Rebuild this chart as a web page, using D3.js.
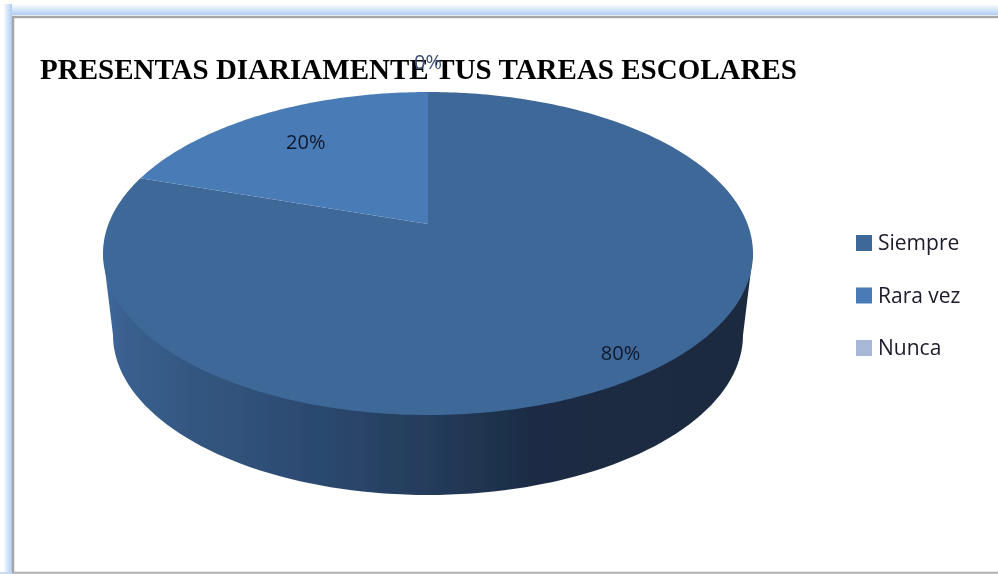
<!DOCTYPE html>
<html>
<head>
<meta charset="utf-8">
<script src="https://cdn.jsdelivr.net/npm/d3@7"></script>
<style>
  html, body { margin: 0; padding: 0; background: #fff; overflow: hidden; }
  svg { display: block; }
</style>
</head>
<body>
<svg width="998" height="574"></svg>
<script>
var categories = ["Siempre", "Rara vez", "Nunca"];
var values = [80, 20, 0];
var labels = ["80%", "20%", "0%"];
var colors = ["#3e6898", "#4a7cb6", "#a8b8d8"];
var labelRadius = [0.89, 0.72, 1.28];
var titleText = "PRESENTAS DIARIAMENTE TUS TAREAS ESCOLARES";

var svg = d3.select("svg"),
    width = +svg.attr("width"),
    height = +svg.attr("height");

var defs = svg.append("defs");

// soft edge, the source is a slightly blurry screenshot
defs.append("filter").attr("id", "soft")
    .append("feGaussianBlur").attr("stdDeviation", 0.45);

function fade(id, x1, y1, x2, y2) {
  var g = defs.append("linearGradient").attr("id", id)
      .attr("x1", x1).attr("y1", y1).attr("x2", x2).attr("y2", y2);
  g.append("stop").attr("offset", "0").attr("stop-color", "#fff");
  g.append("stop").attr("offset", "1").attr("stop-color", "#aecdf5");
}
fade("glowTop", 0, 0, 0, 1);
fade("glowLeft", 0, 0, 1, 0);

// window frame
svg.append("rect").attr("x", 3).attr("y", 4).attr("width", width).attr("height", 11).attr("fill", "url(#glowTop)");
svg.append("rect").attr("x", 3).attr("y", 4).attr("width", 9).attr("height", height).attr("fill", "url(#glowLeft)");
svg.append("rect").attr("x", 13).attr("y", 17).attr("width", width).attr("height", height - 18)
    .attr("fill", "#fff").attr("stroke", "#a6a6a6").attr("stroke-width", 2.5);
svg.append("rect").attr("x", 0).attr("y", 572.5).attr("width", width).attr("height", 2).attr("fill", "#c0c0c0");
svg.append("rect").attr("x", 0).attr("y", 572.5).attr("width", 12).attr("height", 2).attr("fill", "#c5dcf8");

var chart = svg.append("g").attr("filter", "url(#soft)");

// top face is a circle seen in perspective, the apex sits above the ellipse centre
var cx = 428, apexY = 224,
    topY = 92, botY = 415,
    topRx = 325;
var up = apexY - topY, down = botY - apexY;
var c = (up - down) / (up + down);
var a = up * (1 - c);
var d = topRx * Math.sqrt(1 - c * c);

function project(angle, r) {
  var u = Math.sin(angle) * r, v = -Math.cos(angle) * r;
  var w = 1 + c * v;
  return [cx + d * u / w, apexY + a * v / w];
}

var pie = d3.pie().sort(null).value(function(v) { return v; });
var slices = pie(values);
var line = d3.line();

function slicePath(s) {
  var pts = [[cx, apexY]];
  var n = Math.max(2, Math.ceil((s.endAngle - s.startAngle) * 60));
  d3.range(n + 1).forEach(function(i) {
    pts.push(project(s.startAngle + (s.endAngle - s.startAngle) * i / n, 1));
  });
  return line(pts) + "Z";
}

// side wall, bottom rim is a smaller ellipse
var wallRx = 315, wallRy = 160, wallCy = 335, topCy = (topY + botY) / 2;
var wallPts = [[cx + topRx, topCy]].concat(d3.range(0, 181, 2).map(function(t) {
  var r = t * Math.PI / 180;
  return [cx + wallRx * Math.cos(r), wallCy + wallRy * Math.sin(r)];
})).concat([[cx - topRx, topCy]]);

var wallStops = [[0, "#3f6aa0"], [0.03, "#3a6090"], [0.15, "#32567f"], [0.3, "#2d4b72"], [0.5, "#253c5c"], [0.66, "#1b2c44"], [1, "#1a2a40"]];
var wallGrad = defs.append("linearGradient").attr("id", "wall")
    .attr("gradientUnits", "userSpaceOnUse")
    .attr("x1", cx - topRx).attr("y1", 0).attr("x2", cx + topRx).attr("y2", 0);
wallStops.forEach(function(s) {
  wallGrad.append("stop").attr("offset", s[0]).attr("stop-color", s[1]);
});

chart.append("path").attr("d", line(wallPts) + "Z").attr("fill", "url(#wall)");

chart.selectAll("path.slice")
    .data(slices)
    .enter().append("path")
    .attr("class", "slice")
    .attr("d", slicePath)
    .attr("fill", function(s, i) { return colors[i]; });

// title is under the 0% label
chart.append("text")
    .attr("x", 40).attr("y", 79)
    .attr("font-family", "Liberation Serif")
    .attr("font-weight", "bold")
    .attr("font-size", 29)
    .attr("fill", "#000")
    .text(titleText);

chart.selectAll("text.pct")
    .data(slices)
    .enter().append("text")
    .attr("class", "pct")
    .attr("x", function(s, i) { return project((s.startAngle + s.endAngle) / 2, labelRadius[i])[0]; })
    .attr("y", function(s, i) { return project((s.startAngle + s.endAngle) / 2, labelRadius[i])[1]; })
    .attr("dy", "0.35em")
    .attr("text-anchor", "middle")
    .attr("font-family", "Open Sans")
    .attr("font-size", 20)
    .attr("fill", function(s, i) { return i == 2 ? "#3a4f78" : "#10182a"; })
    .text(function(s, i) { return labels[i]; });

// legend
var legendY = d3.scalePoint().domain(categories).range([243, 348]);

var legend = chart.selectAll("g.legend")
    .data(categories)
    .enter().append("g")
    .attr("class", "legend")
    .attr("transform", function(k) { return "translate(856," + legendY(k) + ")"; });

legend.append("rect")
    .attr("x", 0).attr("y", -8)
    .attr("width", 16).attr("height", 16)
    .attr("fill", function(k, i) { return colors[i]; });

legend.append("text")
    .attr("x", 22).attr("dy", "0.35em")
    .attr("font-family", "Open Sans")
    .attr("font-size", 21)
    .attr("fill", "#1a1a2a")
    .text(function(k) { return k; });
</script>
</body>
</html>
